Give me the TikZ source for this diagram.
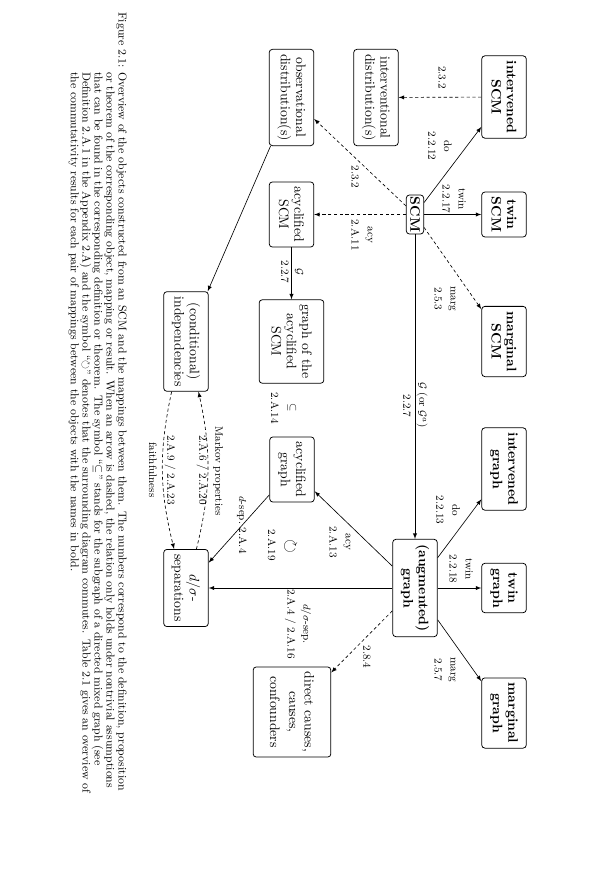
\documentclass[tikz,border=0pt]{standalone}
\usepackage{amssymb}
\usepackage{amsmath}
\usepackage{tikz}
\usetikzlibrary{shapes,arrows,positioning}

\tikzset{
  obj/.style={draw, rounded corners=2.5pt, align=center, line width=0.6pt,
    inner xsep=3.8pt, minimum height=35pt, font=\fontsize{10.8}{12}\selectfont},
  objb/.style={obj, font=\fontsize{10.8}{12}\selectfont\bfseries},
  lbl/.style={align=center, inner sep=0pt, font=\fontsize{8.5}{12.5}\selectfont},
  arr/.style={->, >=latex, line width=0.5pt},
  darr/.style={arr, dash pattern=on 2.5pt off 2pt},
}
\newcommand{\capline}[1]{\makebox[548pt][s]{#1}}

\begin{document}
\begin{tikzpicture}[x=0.27586mm, y=0.27586mm]
\begin{scope}[rotate=-90, transform shape]
\useasboundingbox (0,0) rectangle (870,616);

%SCM objects
\node[objb, inner xsep=1.5pt, inner ysep=3pt, minimum height=0pt] (scm) at (214.5,415) {SCM};
\node[objb] (intscm) at (97,504) {intervened\\SCM};
\node[objb] (twinscm) at (214.5,504) {twin\\SCM};
\node[objb] (margscm) at (341.5,504) {marginal\\SCM};
\node[obj] (intdist) at (97.5,376) {interventional\\distribution(s)};
\node[obj] (obsdist) at (97.5,291.5) {observational\\distribution(s)};
\node[obj] (acyscm) at (214.5,291.5) {acyclified\\SCM};
\node[obj, minimum height=50.8pt] (gacyscm) at (341.5,291.5) {graph of the\\acyclified\\SCM};
\node[obj] (indep) at (341.5,186) {(conditional)\\independencies};

%Graph objects
\node[obj] (acygraph) at (469.5,292) {acyclified\\graph};
\node[objb] (auggraph) at (588,415) {(augmented)\\graph};
\node[objb] (intgraph) at (469,504) {intervened\\graph};
\node[objb] (twingraph) at (588,504) {twin\\graph};
\node[objb] (marggraph) at (713,504) {marginal\\graph};
\node[obj] (dsep) at (588,186) {$d/\sigma$-\\separations};
\node[obj, minimum height=61pt] (causes) at (712,292) {direct causes,\\causes,\\[3pt]confounders};

%Mappings
\draw[arr] (scm) -- (intscm);
\draw[arr] (scm) -- (twinscm);
\draw[darr] (scm) -- (margscm);
\draw[darr] (intscm) -- (intdist);
\draw[darr] (scm) -- (obsdist);
\draw[darr] (scm) -- (acyscm);
\draw[arr] (acyscm) -- (gacyscm);
\draw[arr] (scm) -- (auggraph);
\draw[arr] (obsdist) -- (indep);
\draw[arr] (auggraph) -- (intgraph);
\draw[arr] (auggraph) -- (twingraph);
\draw[arr] (auggraph) -- (marggraph);
\draw[darr] (auggraph) -- (causes);
\draw[arr] (auggraph) -- (acygraph);
\draw[arr] (acygraph) -- (dsep);
\draw[arr] (auggraph) -- (dsep);
\draw[darr] (dsep.165) to[bend right=13] (indep.14);
\draw[darr] (indep.-16) to[bend right=13] (dsep.197);

%Labels
\node[lbl] (ldoa) at (146,440) {do\\2.2.12};
\node[lbl] (ltwina) at (199,454) {twin\\2.2.17};
\node[lbl] (lmarga) at (299,445) {marg\\2.5.3};
\node[lbl] (lint) at (77.5,442) {2.3.2};
\node[lbl] (lobs) at (177,355) {2.3.2};
\node[lbl] (lacya) at (235,362) {acy\\2.A.11};
\node[lbl] (lga) at (272,299) {$\mathcal{G}$};
\node[lbl] (lgan) at (272,285) {2.2.7};
\node[lbl] (lgb) at (405,422) {$\mathcal{G}$ (or $\mathcal{G}^a$)};
\node[lbl] (lgbn) at (406,407) {2.2.7};
\node[lbl] (lsub) at (408,292) {$\subseteq$};
\node[lbl] (lsubn) at (408,275) {2.A.14};
\node[lbl] (lacyb) at (542,340) {acy\\2.A.13};
\node[lbl, font=\fontsize{14}{14}\selectfont] (lcomm) at (546,290) {$\circlearrowright$};
\node[lbl] (lcommn) at (545,272) {2.A.19};
\node[lbl] (ldsep) at (525,242) {$d$-sep.\ 2.A.4};
\node[lbl] (lsep) at (624,298) {$d/\sigma$-sep.\\2.A.4 / 2.A.16};
\node[lbl] (lcaus) at (657,367) {2.8.4};
\node[lbl] (lmargb) at (670,445) {marg\\2.5.7};
\node[lbl] (ldob) at (510,448) {do\\2.2.13};
\node[lbl] (ltwinb) at (569,461) {twin\\2.2.18};
\node[lbl] (lmarkov) at (471,218) {Markov properties};
\node[lbl] (lmarkovn) at (470,202) {2.A.6 / 2.A.20};
\node[lbl] (lfaithn) at (470,170) {2.A.9 / 2.A.23};
\node[lbl] (lfaith) at (470,153) {faithfulness};

%Caption
\node[anchor=north west, inner sep=0pt, text width=595pt, align=left,
  font=\fontsize{9}{9.4}\selectfont] (caption) at (12,127) {%
\makebox[47pt][l]{Figure 2.1:}\capline{Overview of the objects constructed from an SCM and the mappings between them. The numbers correspond to the definition, proposition}\\
\hspace*{47pt}\capline{or theorem of the corresponding object, mapping or result. When an arrow is dashed, the relation only holds under nontrivial assumptions}\\
\hspace*{47pt}\capline{that can be found in the corresponding definition or theorem. The symbol \textquotedblleft$\subseteq$\textquotedblright{} stands for the subgraph of a directed mixed graph (see}\\
\hspace*{47pt}\capline{Definition 2.A.1 in the Appendix 2.A) and the symbol \textquotedblleft$\circlearrowright$\textquotedblright{} denotes that the surrounding diagram commutes. Table 2.1 gives an overview of}\\
\hspace*{47pt}the commutativity results for each pair of mappings between the objects with the names in bold.};
\end{scope}
\end{tikzpicture}
\end{document}
